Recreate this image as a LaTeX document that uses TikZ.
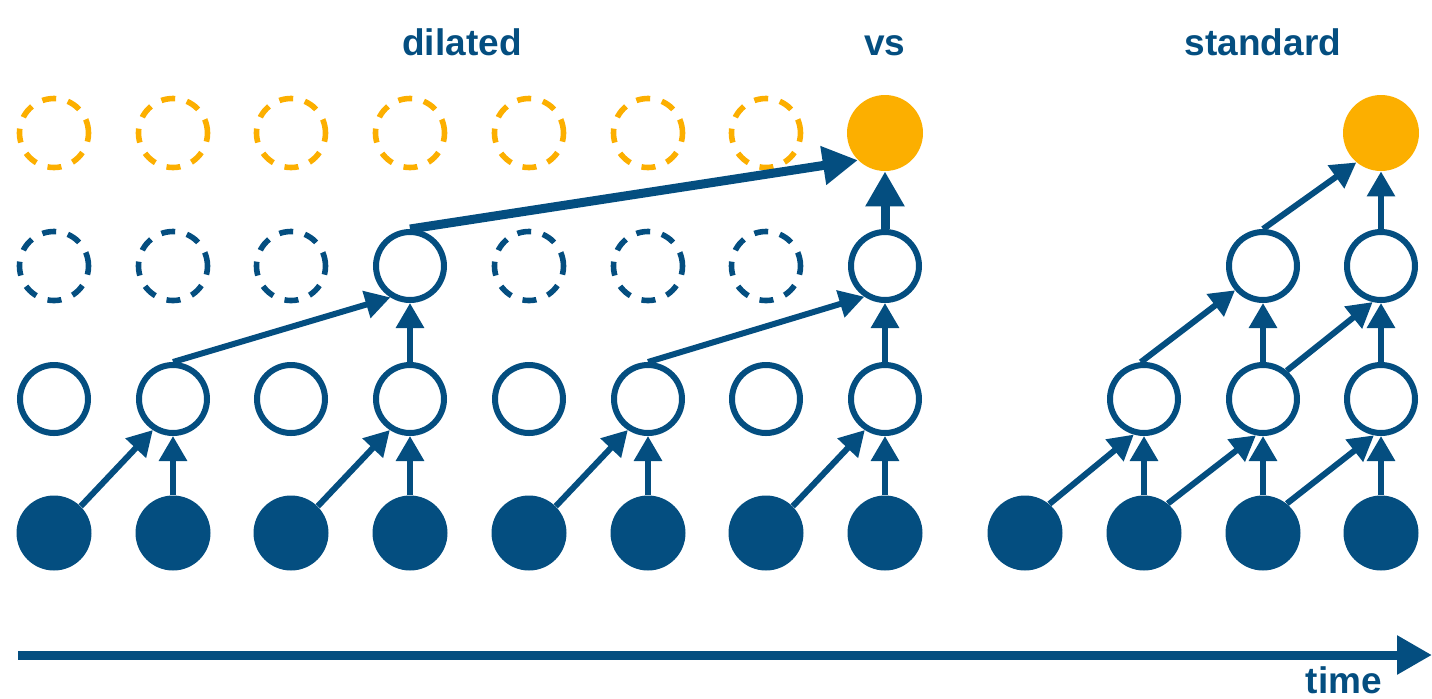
\documentclass[tikz,border=0pt]{standalone}
\usepackage{fontspec}
\setmainfont{Liberation Sans}
\usetikzlibrary{arrows.meta}

\definecolor{netblue}{RGB}{4,78,128}
\definecolor{netorange}{RGB}{252,175,0}

\tikzset{
  inp/.style={circle,fill=netblue,inner sep=0pt,minimum size=37.5pt},
  hid/.style={circle,draw=netblue,line width=3pt,fill=white,inner sep=0pt,minimum size=34pt},
  ghost/.style={circle,draw=netblue,line width=2.8pt,dash pattern=on 7pt off 6pt,inner sep=0pt,minimum size=34.5pt},
  ghostout/.style={ghost,draw=netorange},
  outp/.style={circle,fill=netorange,inner sep=0pt,minimum size=38pt},
  link/.style={netblue,line width=3pt,-{Triangle[length=12.5pt,width=13.5pt]}},
  biglink/.style={netblue,line width=4.5pt,-{Triangle[length=17.5pt,width=18.5pt]}},
  heading/.style={text=netblue,font=\fontsize{18.5}{22}\selectfont\bfseries,anchor=base,inner sep=0pt}
}

\begin{document}
\begin{tikzpicture}[x=0.5pt,y=-0.5pt]
  \useasboundingbox (0,0) rectangle (1432,698);

  \node[heading] (dil) at (462,55) {dilated};
  \node[heading] (vs) at (885,55) {vs};
  \node[heading] (std) at (1263,55) {standard};

  % dilated: inputs
  \node[inp] (x1) at (54,533) {};
  \node[inp] (x2) at (173,533) {};
  \node[inp] (x3) at (291,533) {};
  \node[inp] (x4) at (410,533) {};
  \node[inp] (x5) at (529,533) {};
  \node[inp] (x6) at (648,533) {};
  \node[inp] (x7) at (766,533) {};
  \node[inp] (x8) at (885,533) {};

  % dilated: first layer
  \node[hid] (a1) at (54,399) {};
  \node[hid] (a2) at (173,399) {};
  \node[hid] (a3) at (291,399) {};
  \node[hid] (a4) at (410,399) {};
  \node[hid] (a5) at (529,399) {};
  \node[hid] (a6) at (648,399) {};
  \node[hid] (a7) at (766,399) {};
  \node[hid] (a8) at (885,399) {};

  % dilated: second layer
  \node[ghost] (b1) at (54,266) {};
  \node[ghost] (b2) at (173,266) {};
  \node[ghost] (b3) at (291,266) {};
  \node[hid] (b4) at (410,266) {};
  \node[ghost] (b5) at (529,266) {};
  \node[ghost] (b6) at (648,266) {};
  \node[ghost] (b7) at (766,266) {};
  \node[hid] (b8) at (885,266) {};

  % dilated: output
  \node[ghostout] (y1) at (54,133) {};
  \node[ghostout] (y2) at (173,133) {};
  \node[ghostout] (y3) at (291,133) {};
  \node[ghostout] (y4) at (410,133) {};
  \node[ghostout] (y5) at (529,133) {};
  \node[ghostout] (y6) at (648,133) {};
  \node[ghostout] (y7) at (766,133) {};
  \node[outp] (y8) at (885,133) {};

  \draw[link] (x1.45) -- (a2.237);
  \draw[link] (x2) -- (a2);
  \draw[link] (x3.45) -- (a4.237);
  \draw[link] (x4) -- (a4);
  \draw[link] (x5.45) -- (a6.237);
  \draw[link] (x6) -- (a6);
  \draw[link] (x7.45) -- (a8.237);
  \draw[link] (x8) -- (a8);

  \draw[link] (a2.north) -- (b4.238);
  \draw[link] (a4) -- (b4);
  \draw[link] (a6.north) -- (b8.236);
  \draw[link] (a8) -- (b8);

  \draw[biglink] (b4.north) -- (y8.225);
  \draw[biglink] (b8) -- (y8);

  % standard
  \node[inp] (sx1) at (1025,533) {};
  \node[inp] (sx2) at (1144,533) {};
  \node[inp] (sx3) at (1263,533) {};
  \node[inp] (sx4) at (1381,533) {};

  \node[hid] (sa2) at (1144,399) {};
  \node[hid] (sa3) at (1263,399) {};
  \node[hid] (sa4) at (1381,399) {};

  \node[hid] (sb3) at (1263,266) {};
  \node[hid] (sb4) at (1381,266) {};

  \node[outp] (sy) at (1381,133) {};

  \draw[link] (sx1.50) -- (sa2.254);
  \draw[link] (sx2) -- (sa2);
  \draw[link] (sx2.51) -- (sa3.259);
  \draw[link] (sx3) -- (sa3);
  \draw[link] (sx3.51) -- (sa4.259);
  \draw[link] (sx4) -- (sa4);

  \draw[link] (sa2.95) -- (sb3.221);
  \draw[link] (sa3) -- (sb3);
  \draw[link] (sa3.50) -- (sb4.257);
  \draw[link] (sa4) -- (sb4);

  \draw[link] (sb3.north) -- (sy.230);
  \draw[link] (sb4) -- (sy);

  % time axis
  \coordinate (t0) at (18,655);
  \coordinate (t1) at (1432,655);
  \draw[biglink] (t0) -- (t1);
  \node[heading] (tlabel) at (1344,693) {time};
\end{tikzpicture}
\end{document}
